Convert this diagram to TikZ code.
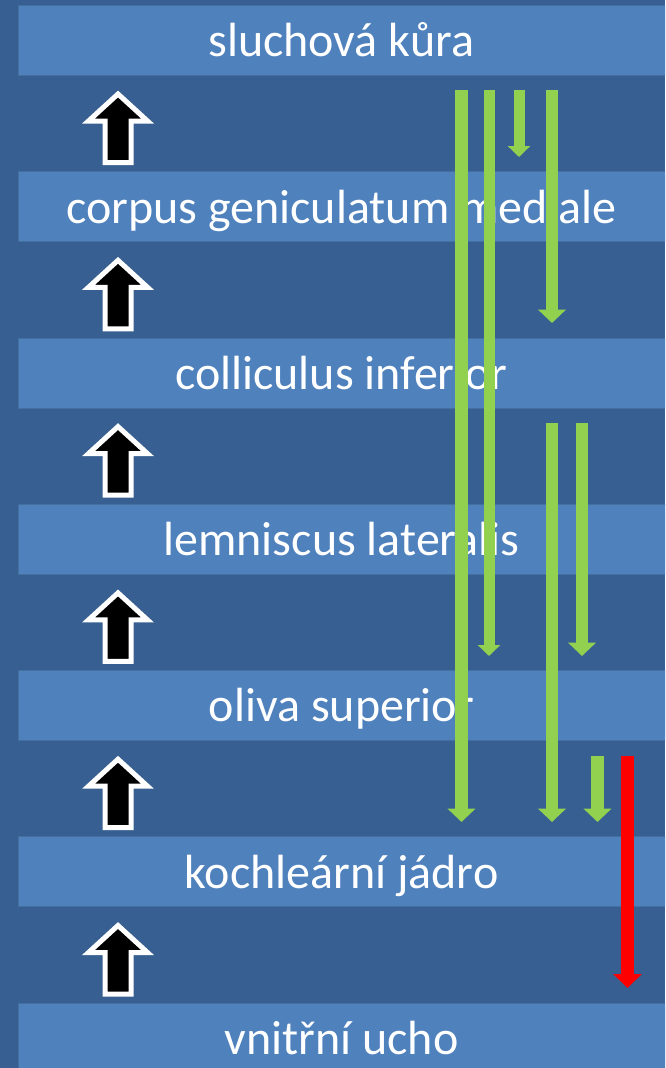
\documentclass[tikz,border=0pt]{standalone}
\usepackage{fontspec}
\setmainfont{Carlito}
\usetikzlibrary{arrows.meta}
\definecolor{bgblue}{HTML}{375F91}
\definecolor{barblue}{HTML}{4F81BD}
\definecolor{baredge}{HTML}{44709F}
\definecolor{lgreen}{HTML}{92D050}
\tikzset{
  bar/.style={fill=barblue, draw=baredge, line width=1pt, minimum width=647pt, minimum height=70pt,
    inner sep=0pt, text=white, text height=33pt, text depth=0pt, font=\fontsize{48}{48}\selectfont},
  uparrow/.style={fill=black, draw=white, line width=5pt, line join=miter},
  garrow/.style={draw=lgreen, line width=12.5pt, -{Triangle[width=27.5pt,length=13.5pt]}},
  gthin/.style={draw=lgreen, line width=11pt, -{Triangle[width=22pt,length=11pt]}},
  rarrow/.style={draw=red, line width=13pt, -{Triangle[width=28pt,length=14pt]}}
}
\newcommand\blackup[1]{%
  \draw[uparrow] (118,{#1+5}) -- (147.5,{#1+32}) -- (131,{#1+32}) -- (131,{#1+73.5})
    -- (105,{#1+73.5}) -- (105,{#1+32}) -- (88.5,{#1+32}) -- cycle;}
\begin{document}
\begin{tikzpicture}[x=1pt,y=-1pt]
\useasboundingbox (0,0) rectangle (665,1068);
\clip (0,0) rectangle (665,1068);
\fill[bgblue] (0,0) rectangle (665,1068);
% bars
\node[bar] (b1) at (341.5,40)   {sluchová kůra};
\node[bar] (b2) at (341.5,206.5){corpus geniculatum mediale};
\node[bar] (b3) at (341.5,373)  {colliculus inferior};
\node[bar] (b4) at (341.5,539)  {lemniscus lateralis};
\node[bar] (b5) at (341.5,705)  {oliva superior};
\node[bar] (b6) at (341.5,871.5){kochleární jádro};
\node[bar] (b7) at (341.5,1038) {vnitřní ucho};
% black up arrows
\foreach \t in {89,255.3,421.6,587.9,754.2,920.5} {\blackup{\t}}
% green arrows
\coordinate (g1a) at (461.5,90);  \coordinate (g1b) at (461.5,822);
\coordinate (g2a) at (489,90);    \coordinate (g2b) at (489,656);
\coordinate (g3a) at (519,90);    \coordinate (g3b) at (519,157);
\coordinate (g4a) at (552,90);    \coordinate (g4b) at (552,323);
\coordinate (g5a) at (552,423);   \coordinate (g5b) at (552,822);
\coordinate (g6a) at (582,423);   \coordinate (g6b) at (582,656);
\coordinate (g7a) at (597.5,756); \coordinate (g7b) at (597.5,822);
\coordinate (ra)  at (627.5,756); \coordinate (rb)  at (627.5,988);
\draw[garrow] (g1a) -- (g1b);
\draw[gthin]  (g2a) -- (g2b);
\draw[gthin]  (g3a) -- (g3b);
\draw[garrow] (g4a) -- (g4b);
\draw[garrow] (g5a) -- (g5b);
\draw[garrow] (g6a) -- (g6b);
\draw[garrow] (g7a) -- (g7b);
\draw[rarrow] (ra) -- (rb);
\end{tikzpicture}
\end{document}
